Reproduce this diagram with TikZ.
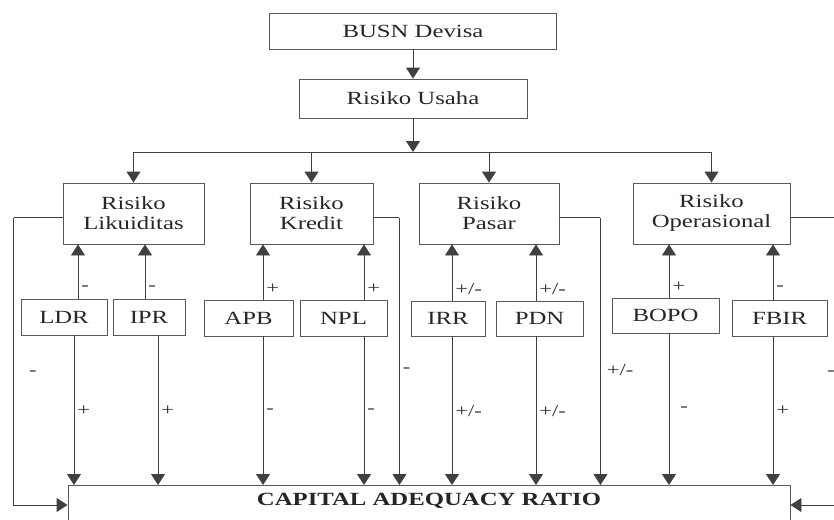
\documentclass[tikz,border=0pt]{standalone}
\usepackage{fontspec}
\setmainfont{Liberation Serif}[FakeStretch=1.33]
\usepackage{tikz}
\usetikzlibrary{arrows.meta}
\usetikzlibrary{calc}
\tikzset{
every picture/.style={line width=0.9pt, >={Triangle[width=14pt,length=11pt]}},
%%%%%%%%%%  Node styles
riskbox/.style={draw=black!65, rectangle, inner sep=0pt, align=center,
                text=black!85, font=\fontsize{18.6}{20}\selectfont},
ratiobox/.style={draw=black!65, rectangle, inner xsep=0pt, inner ysep=6pt,
                 text height=14pt, text depth=50pt, text=black!85,
                 font=\fontsize{18.6}{20}\selectfont\bfseries},
signlabel/.style={inner sep=3pt, text=black!80,
                  font=\fontsize{17}{17}\selectfont},
%%%%%%% line styles
link/.style={draw=black!75},
arrowlink/.style={draw=black!75, ->},
}

\begin{document}
\begin{tikzpicture}[x=1pt,y=-1pt]
\useasboundingbox (0,0) rectangle (834,519);
\clip (0,0) rectangle (834,519);
%% top of the tree
\node[riskbox, minimum width=287pt, minimum height=36pt] (busn) at (413,31) {BUSN Devisa};
\node[riskbox, minimum width=228pt, minimum height=39pt] (usaha) at (413,98.5) {Risiko Usaha};
\coordinate (bus) at (413,152);
%% the four kinds of risk
\node[riskbox, minimum width=141pt, minimum height=61pt] (lik) at (133.5,213.5) {Risiko\\Likuiditas};
\node[riskbox, minimum width=123pt, minimum height=61pt] (kred) at (311.5,213.5) {Risiko\\Kredit};
\node[riskbox, minimum width=140pt, minimum height=61pt] (pas) at (489,213.5) {Risiko\\Pasar};
\node[riskbox, minimum width=157pt, minimum height=61pt] (ops) at (711.5,213.5) {Risiko\\Operasional};
%% the ratios
\node[riskbox, minimum width=86pt, minimum height=36pt] (ldr) at (64,317) {LDR};
\node[riskbox, minimum width=72pt, minimum height=36pt] (ipr) at (149,317) {IPR};
\node[riskbox, minimum width=89pt, minimum height=36pt] (apb) at (248.5,318) {APB};
\node[riskbox, minimum width=87pt, minimum height=36pt] (npl) at (343.5,318) {NPL};
\node[riskbox, minimum width=74pt, minimum height=35pt] (irr) at (448,318.5) {IRR};
\node[riskbox, minimum width=87pt, minimum height=35pt] (pdn) at (539.5,318.5) {PDN};
\node[riskbox, minimum width=107pt, minimum height=35pt] (bopo) at (665.5,315.5) {BOPO};
\node[riskbox, minimum width=95pt, minimum height=36pt] (fbir) at (779.5,318) {FBIR};
%% the bottom box
\node[ratiobox, minimum width=722pt, anchor=north] (car) at (429,485) {CAPITAL ADEQUACY RATIO};
%%%%%%%%%%%%%%%%%%%%%%%%%%%%%%%%%%%%%%%%%%%%%%%%%%%%
%% tree arrows
\draw[arrowlink] (busn) -- (usaha);
\draw[arrowlink] (usaha) -- (bus);
\draw[link] (lik.north |- bus) -- (ops.north |- bus);
\draw[arrowlink] (lik.north |- bus) -- (lik.north);
\draw[arrowlink] (kred.north |- bus) -- (kred.north);
\draw[arrowlink] (pas.north |- bus) -- (pas.north);
\draw[arrowlink] (ops.north |- bus) -- (ops.north);
%%%%%%%%%%%%%%%%%%%%%%%%%%%%%%%%%%%%%%%%%%%%%%%%%%%%
%% ratio up to risk, and down to CAR
\coordinate (ldrU) at ([xshift=14pt]ldr.north);
\coordinate (ldrD) at ([xshift=10pt]ldr.south);
\draw[arrowlink] (ldrU) -- node[signlabel, pos=0.2, anchor=west] {-} (ldrU |- lik.south);
\draw[arrowlink] (ldrD) -- node[signlabel, pos=0.5, anchor=west] {+} (ldrD |- car.north);
\coordinate (iprU) at ([xshift=-4pt]ipr.north);
\coordinate (iprD) at ([xshift=9pt]ipr.south);
\draw[arrowlink] (iprU) -- node[signlabel, pos=0.2, anchor=west] {-} (iprU |- lik.south);
\draw[arrowlink] (iprD) -- node[signlabel, pos=0.5, anchor=west] {+} (iprD |- car.north);
\coordinate (apbU) at ([xshift=14.5pt]apb.north);
\coordinate (apbD) at ([xshift=14.5pt]apb.south);
\draw[arrowlink] (apbU) -- node[signlabel, pos=0.2, anchor=west] {+} (apbU |- kred.south);
\draw[arrowlink] (apbD) -- node[signlabel, pos=0.5, anchor=west] {-} (apbD |- car.north);
\coordinate (nplU) at ([xshift=20.5pt]npl.north);
\coordinate (nplD) at ([xshift=20.5pt]npl.south);
\draw[arrowlink] (nplU) -- node[signlabel, pos=0.2, anchor=west] {+} (nplU |- kred.south);
\draw[arrowlink] (nplD) -- node[signlabel, pos=0.5, anchor=west] {-} (nplD |- car.north);
\coordinate (irrU) at ([xshift=4pt]irr.north);
\coordinate (irrD) at ([xshift=4pt]irr.south);
\draw[arrowlink] (irrU) -- node[signlabel, pos=0.2, anchor=west] {+/-} (irrU |- pas.south);
\draw[arrowlink] (irrD) -- node[signlabel, pos=0.5, anchor=west] {+/-} (irrD |- car.north);
\coordinate (pdnU) at ([xshift=-3.5pt]pdn.north);
\coordinate (pdnD) at ([xshift=-3.5pt]pdn.south);
\draw[arrowlink] (pdnU) -- node[signlabel, pos=0.2, anchor=west] {+/-} (pdnU |- pas.south);
\draw[arrowlink] (pdnD) -- node[signlabel, pos=0.5, anchor=west] {+/-} (pdnD |- car.north);
\coordinate (bopoU) at ([xshift=3.5pt]bopo.north);
\coordinate (bopoD) at ([xshift=3.5pt]bopo.south);
\draw[arrowlink] (bopoU) -- node[signlabel, pos=0.2, anchor=west] {+} (bopoU |- ops.south);
\draw[arrowlink] (bopoD) -- node[signlabel, pos=0.5, anchor=west, xshift=8pt] {-} (bopoD |- car.north);
\coordinate (fbirU) at ([xshift=-6.5pt]fbir.north);
\coordinate (fbirD) at ([xshift=-6.5pt]fbir.south);
\draw[arrowlink] (fbirU) -- node[signlabel, pos=0.2, anchor=west] {-} (fbirU |- ops.south);
\draw[arrowlink] (fbirD) -- node[signlabel, pos=0.5, anchor=west] {+} (fbirD |- car.north);
%%%%%%%%%%%%%%%%%%%%%%%%%%%%%%%%%%%%%%%%%%%%%%%%%%%%
%% each risk straight to CAR
\draw[link] ([yshift=-4pt]lik.west) -- ++(-49,0) coordinate (likL);
\draw[arrowlink] (likL) |- node[signlabel, pos=0.27, anchor=west, xshift=12pt] {-} ([yshift=-20pt]car.north west);
\draw[link] ([yshift=-4pt]kred.east) -- ++(26,0) coordinate (kredR);
\draw[arrowlink] (kredR) -- node[signlabel, pos=0.57, anchor=west] {-} (kredR |- car.north);
\draw[link] ([yshift=-4pt]pas.east) -- ++(41,0) coordinate (pasR);
\draw[arrowlink] (pasR) -- node[signlabel, pos=0.57, anchor=west, xshift=3pt] {+/-} (pasR |- car.north);
\draw[link] ([yshift=-4pt]ops.east) -- ++(56,0) coordinate (opsR);
\draw[arrowlink] (opsR) |- node[signlabel, pos=0.27, anchor=east, xshift=-8pt] {-} ([yshift=-20pt]car.north east);
\end{tikzpicture}
\end{document}
